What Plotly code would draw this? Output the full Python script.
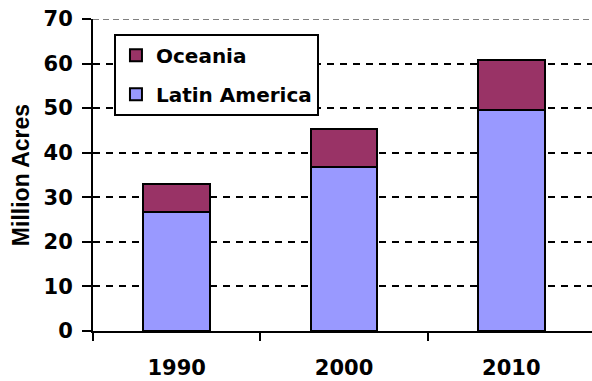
import plotly.graph_objects as go

# Planted area by region, million acres
years = ["1990", "2000", "2010"]
latin_america = [26.8, 36.8, 49.6]
oceania = [6.2, 8.6, 11.3]

y_ticks = [0, 10, 20, 30, 40, 50, 60, 70]
Y_MAX = 70

TICK_FONT = dict(family="DejaVu Sans", size=21, color="black")
LEGEND_FONT = dict(family="DejaVu Sans", size=20, color="black")

fig = go.Figure()
fig.add_trace(go.Bar(
    x=years, y=latin_america, name="<b>Latin America</b>",
    marker=dict(color="#9999FF", line=dict(color="black", width=2)),
    legendgroup="la", legendrank=2,
))
fig.add_trace(go.Bar(
    x=years, y=oceania, name="<b>Oceania</b>",
    marker=dict(color="#993366", line=dict(color="black", width=2)),
    legendgroup="oc", legendrank=1,
))

# Grey dashed border line across the top of the plot area
fig.add_shape(type="line", xref="paper", yref="y", x0=0, x1=1, y0=Y_MAX, y1=Y_MAX,
              line=dict(color="#808080", width=2, dash="6px,4px"), layer="below")

fig.update_layout(
    barmode="stack",
    bargap=0.6,
    width=592, height=381,
    margin=dict(l=93, r=0, t=19, b=50),
    paper_bgcolor="white", plot_bgcolor="white",
    showlegend=True,
    legend=dict(
        x=0.042, y=0.953, xanchor="left", yanchor="top",
        tracegroupgap=10,
        bordercolor="black", borderwidth=2, bgcolor="white",
        font=LEGEND_FONT,
    ),
    xaxis=dict(
        type="category", range=[-0.5, 2.482],
        showline=True, linecolor="black", linewidth=2,
        ticks="outside", ticklen=8, tickwidth=2, tickcolor="black",
        tickson="boundaries", showgrid=False,
        tickfont=TICK_FONT, ticklabelstandoff=17,
        tickprefix="<b>", ticksuffix="</b>",
    ),
    yaxis=dict(
        range=[0, Y_MAX], tickvals=y_ticks,
        ticktext=[f"<b>{v}</b>" for v in y_ticks],
        showline=True, linecolor="black", linewidth=2,
        ticks="outside", ticklen=9, tickwidth=2, tickcolor="black",
        showgrid=True, gridcolor="black", gridwidth=2, griddash="7px,6px",
        zeroline=False,
        tickfont=TICK_FONT, ticklabelstandoff=5,
        title=dict(text="<b>Million Acres</b>",
                   font=dict(family="Liberation Sans", size=23, color="black"),
                   standoff=8),
        automargin=False,
    ),
)

fig.write_html("out.html")
